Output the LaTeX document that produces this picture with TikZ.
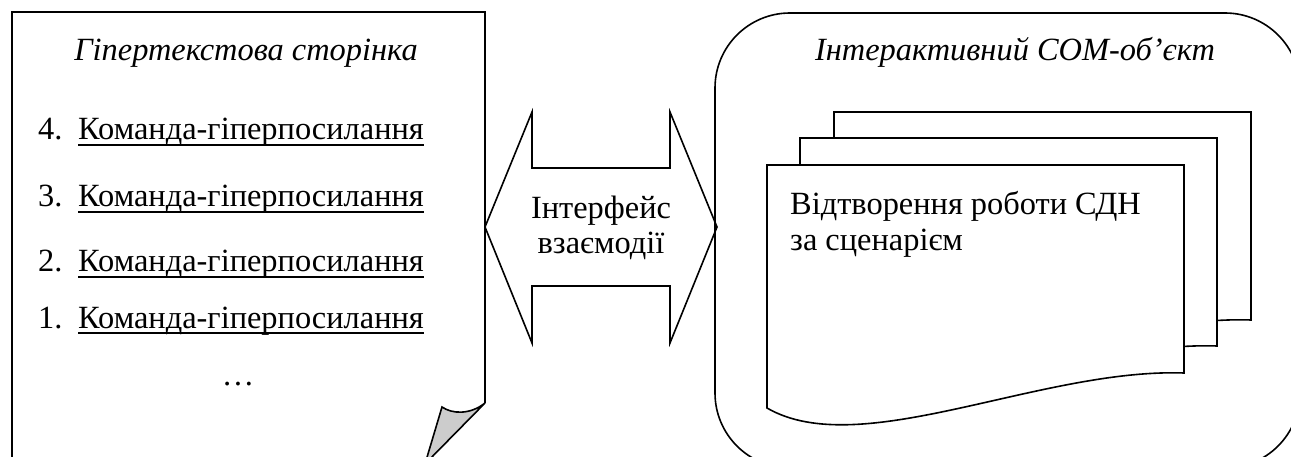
\documentclass[tikz,border=0pt]{standalone}
\usepackage{fontspec}
\setmainfont{Liberation Serif}
\begin{document}
\begin{tikzpicture}[x=1pt,y=-1pt,
  outl/.style={draw=black, line width=1.6pt, line join=miter},
  paper/.style={outl, fill=white},
  txt/.style={inner sep=0pt, font=\fontsize{32.4}{38}\selectfont},
  ttl/.style={inner sep=0pt, font=\fontsize{32.4}{38}\selectfont\itshape},
  uline/.style={draw=black, line width=1.8pt}]
\useasboundingbox (0,0) rectangle (1291,457);
% ---------- left page with folded corner ----------
\draw[outl] (12,475) -- (12,12) -- (485,12) -- (485,403);
\draw[outl] (12,464) -- (427,464);
\draw[outl, fill=gray!40] (485,403) .. controls (470,415) and (452,414) .. (442,407)
   -- (425,464) -- cycle;
\node[ttl, anchor=base] (ttlL) at (246,61) {Гіпертекстова сторінка};
\foreach \n/\yy in {4/140, 3/207, 2/272, 1/328}{
  \node[txt, anchor=base west] (num\n) at (38,\yy) {\n.};
  \node[txt, anchor=base west] (cmd\n) at (78,\yy) {Команда-гіперпосилання};
  \draw[uline] ([yshift=-5pt]cmd\n.base west) -- ([yshift=-5pt]cmd\n.base east);
}
\node[txt, anchor=base] (dots) at (238,385) {…};
% ---------- double arrow ----------
\draw[outl, fill=white] (485,227) -- (532,112) -- (532,168) -- (670,168) -- (670,112)
  -- (717,227) -- (670,343) -- (670,286) -- (532,286) -- (532,343) -- cycle;
\node[txt, anchor=base] (if1) at (601,219) {Інтерфейс};
\node[txt, anchor=base] (if2) at (601,254) {взаємодії};
% ---------- rounded container ----------
\draw[outl, rounded corners=75pt] (715,13) rectangle (1300,468);
\node[ttl, anchor=base] (ttlR) at (1015,61) {Інтерактивний СОМ-об’єкт};
% ---------- stacked documents ----------
\foreach \dx/\dy in {67/-53, 33/-27, 0/0}{
  \begin{scope}[shift={(\dx,\dy)}]
    \draw[paper] (767,165) -- (1184,165) -- (1184,373)
      .. controls (1040,368) and (860,462) .. (767,408) -- cycle;
  \end{scope}
}
\node[txt, anchor=base west] (doc1) at (790,215) {Відтворення роботи СДН};
\node[txt, anchor=base west] (doc2) at (790,251) {за сценарієм};
\end{tikzpicture}
\end{document}
